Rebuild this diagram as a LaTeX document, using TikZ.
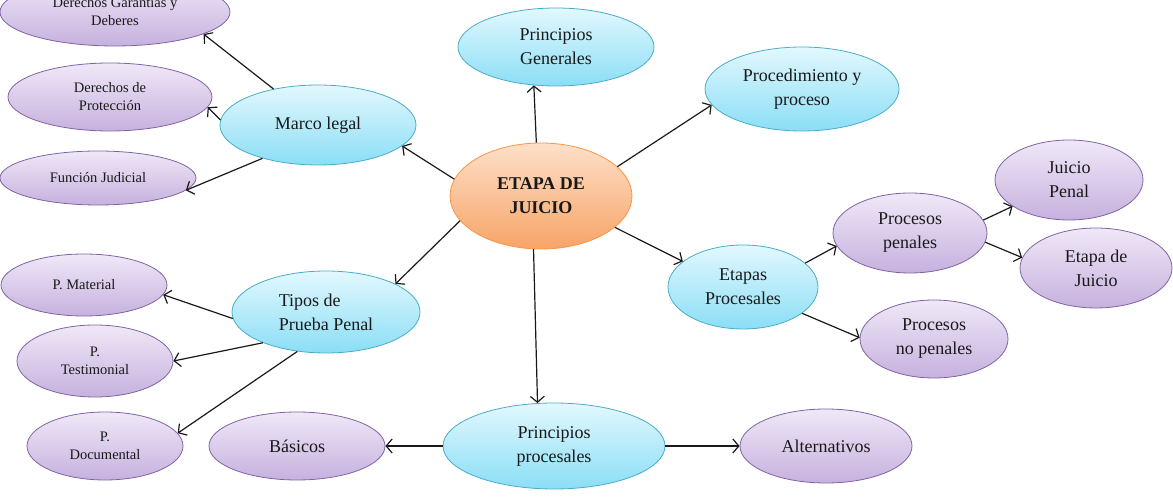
\documentclass[tikz,border=0pt]{standalone}
\usepackage{fontspec}
\setmainfont{Liberation Serif}
\usetikzlibrary{arrows.meta,shapes.geometric}
\definecolor{lilaA}{HTML}{F0E8F8}
\definecolor{lilaB}{HTML}{C6B1DE}
\definecolor{violeta}{HTML}{8064A2}
\definecolor{celA}{HTML}{E2F8FE}
\definecolor{celB}{HTML}{8BDEF6}
\definecolor{turq}{HTML}{4BACC6}
\definecolor{narA}{HTML}{FDE0C8}
\definecolor{narB}{HTML}{F8A468}
\definecolor{naranja}{HTML}{F79646}

\begin{document}
\begin{tikzpicture}[x=1pt,y=-1pt,>={Straight Barb[length=6pt,width=14pt]},
  burbuja/.style={ellipse,draw,line width=0.8pt,inner sep=0pt,align=center,text=black!90},
  lila/.style={burbuja,draw=violeta,top color=lilaA,bottom color=lilaB,font=\fontsize{14.5}{18}\selectfont},
  lilag/.style={burbuja,draw=violeta,top color=lilaA,bottom color=lilaB,font=\fontsize{18}{24}\selectfont},
  celeste/.style={burbuja,draw=turq,top color=celA,bottom color=celB,font=\fontsize{18}{24}\selectfont},
  flecha/.style={->,line width=1.2pt,black!90}]
\useasboundingbox (0,0) rectangle (1173,502);
% centro
\node[burbuja,draw=naranja,top color=narA,bottom color=narB,font=\fontsize{18}{24}\selectfont\bfseries,
  minimum width=182pt,minimum height=106pt] (etapa) at (541,196) {ETAPA DE\\ JUICIO};
% ramas principales
\node[celeste,minimum width=196pt,minimum height=80pt] (marco) at (318,125) {Marco legal};
\node[celeste,minimum width=196pt,minimum height=78pt] (pgen) at (556,47) {Principios\\ Generales};
\node[celeste,minimum width=194pt,minimum height=84pt] (proc) at (802,89) {Procedimiento y\\ proceso};
\node[celeste,minimum width=188pt,minimum height=82pt,align=left] (tipos) at (326,312) {Tipos de\\ Prueba Penal};
\node[celeste,minimum width=150pt,minimum height=84pt] (etapas) at (743,287) {Etapas\\ Procesales};
\node[celeste,minimum width=222pt,minimum height=86pt] (pproc) at (554,446) {Principios\\ procesales};
% hojas
\node[lila,minimum width=230pt,minimum height=68pt] (dgar) at (115,12) {Derechos Garantías y\\ Deberes};
\node[lila,minimum width=204pt,minimum height=68pt] (dprot) at (110,97) {Derechos de\\ Protección};
\node[lila,minimum width=196pt,minimum height=54pt] (func) at (98,178) {Función Judicial};
\node[lila,minimum width=166pt,minimum height=62pt] (pmat) at (84,285) {P. Material};
\node[lila,minimum width=156pt,minimum height=72pt] (ptest) at (95,361) {P.\\ Testimonial};
\node[lila,minimum width=156pt,minimum height=68pt] (pdoc) at (105,446) {P.\\ Documental};
\node[lilag,minimum width=176pt,minimum height=68pt] (bas) at (297,446) {Básicos};
\node[lilag,minimum width=172pt,minimum height=74pt] (alt) at (826,446) {Alternativos};
\node[lilag,minimum width=154pt,minimum height=80pt] (ppen) at (910,233) {Procesos\\ penales};
\node[lilag,minimum width=148pt,minimum height=80pt] (jpen) at (1069,180) {Juicio\\ Penal};
\node[lilag,minimum width=152pt,minimum height=80pt] (etj) at (1096,268) {Etapa de\\ Juicio};
\node[lilag,minimum width=148pt,minimum height=78pt] (pnop) at (934,339) {Procesos\\ no penales};
% conectores
\draw[flecha] (etapa.169) -- (marco.-14);
\draw[flecha] (etapa.95) -- (pgen.-120);
\draw[flecha] (etapa.21) -- (proc.190);
\draw[flecha] (etapa.-163) -- (tipos.22);
\draw[flecha] (etapa.-23) -- (etapas.157);
\draw[flecha] (etapa.-98) -- (pproc.111);
\draw[flecha] (marco.141) -- (dgar.-14);
\draw[flecha] (marco.177) -- (dprot.-6);
\draw[flecha] (marco.-149) -- (func.-8);
\draw[flecha] (tipos.-176) -- (pmat.-7);
\draw[flecha] (tipos.-154) -- (ptest.0);
\draw[flecha] (tipos.-126) -- (pdoc.10);
\draw[flecha] (pproc.west) -- (bas.east);
\draw[flecha] (pproc.east) -- (alt.west);
\draw[flecha] (etapas.21) -- (ppen.190);
\draw[flecha] (etapas.-24) -- (pnop.179);
\draw[flecha] (ppen.10) -- (jpen.205);
\draw[flecha] (ppen.-7) -- (etj.172);
\end{tikzpicture}
\end{document}
